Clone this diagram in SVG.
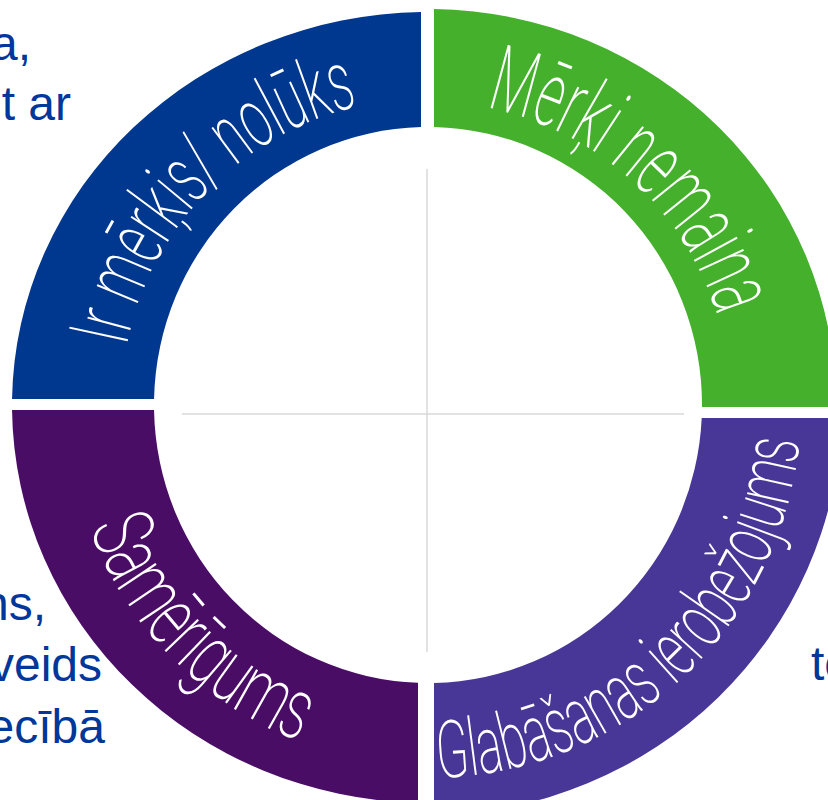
<svg xmlns="http://www.w3.org/2000/svg" width="828" height="800" viewBox="0 0 828 800">
  <style>
    .side { font-family: "Liberation Sans", Arial, sans-serif; font-size: 48px; fill: #00379a; }
    .lbl { font-family: Roboto, "Open Sans", sans-serif; font-weight: 200; fill: #ffffff; }
    .guide { stroke: #d9d9d9; stroke-width: 1.5; fill: none; }
  </style>
  <defs>
    <path id="pBlue" d="M126.6,346.4 A307,307 0 0 1 358.9,105.9"/>
    <path id="pGreen" d="M485.8,107.6 A303,303 0 0 1 717.8,316.4"/>
    <path id="pPurple" d="M89.7,528.1 A360,360 0 0 0 299.0,741.1"/>
    <path id="pViolet" d="M437.8,777.9 A373,373 0 0 0 799.3,440.7"/>
  </defs>
  <rect width="828" height="800" fill="#ffffff"/>

  <g id="side-text">
    <text class="side" x="31" y="60" text-anchor="end">a,</text>
    <text class="side" x="71" y="120" text-anchor="end">t ar</text>
    <text class="side" x="46" y="620" text-anchor="end">ns,</text>
    <text class="side" x="102" y="681" text-anchor="end">veids</text>
    <text class="side" x="105" y="743" text-anchor="end">ecībā</text>
    <text class="side" x="811" y="680">te</text>
  </g>

  <g id="connectors">
    <line class="guide" x1="182" y1="414" x2="684" y2="414"/>
    <line class="guide" x1="427" y1="169" x2="427" y2="652"/>
  </g>

  <g id="node-merkis">
    <path d="M12.05,399 A416,393 0 0 1 421,12.06 L421,127.1 A274,278 0 0 0 154.06,399 Z" fill="#00378f"/>
    <text class="lbl" font-size="84"><textPath href="#pBlue" textLength="353" lengthAdjust="spacingAndGlyphs">Ir mērķis/ nolūks</textPath></text>
  </g>

  <g id="node-nemaina">
    <path d="M434,9.04 A408,396 0 0 1 836,407 L702,407 A274,278 0 0 0 434,127.07 Z" fill="#44b02c"/>
    <text class="lbl" font-size="92"><textPath href="#pGreen" textLength="328" lengthAdjust="spacingAndGlyphs">Mērķi nemaina</textPath></text>
  </g>

  <g id="node-samerigums">
    <path d="M12.03,410 L154.04,410 A274,278 0 0 0 418,682.8 L418,802.9 A416,398 0 0 1 12.03,410 Z" fill="#4a0d66"/>
    <text class="lbl" font-size="86"><textPath href="#pPurple" textLength="308" lengthAdjust="spacingAndGlyphs">Samērīgums</textPath></text>
  </g>

  <g id="node-glabasana">
    <path d="M701.7,418 L841.8,418 A414,410 0 0 1 434,814.96 L434,682.93 A274,278 0 0 0 701.7,418 Z" fill="#483797"/>
    <text class="lbl" font-size="80"><textPath href="#pViolet" textLength="540" lengthAdjust="spacingAndGlyphs">Glabāšanas ierobežojums</textPath></text>
  </g>
</svg>
